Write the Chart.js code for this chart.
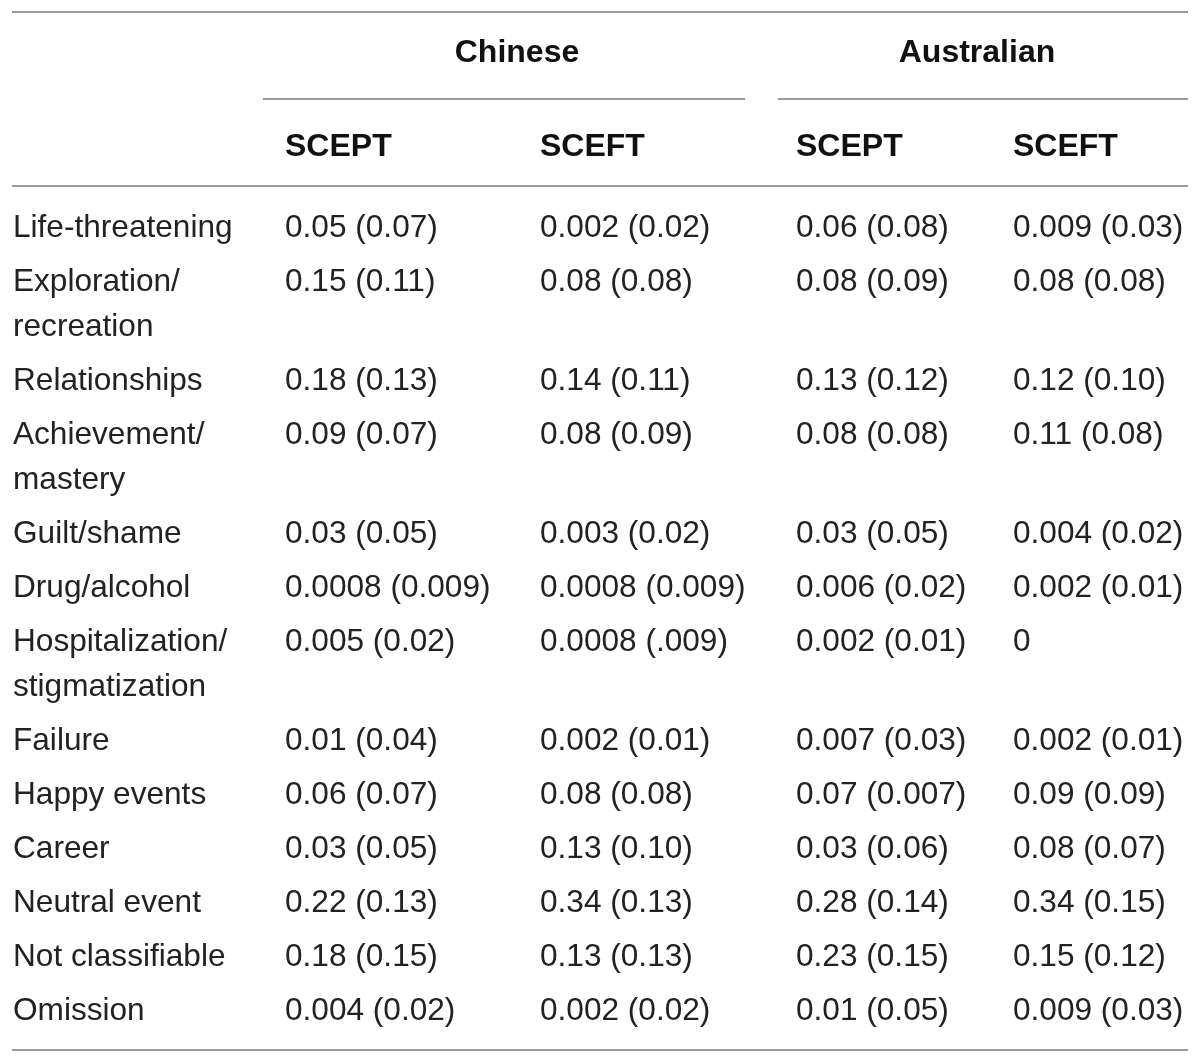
<!DOCTYPE html>
<html>
<head>
<meta charset="utf-8">
<script src="https://cdn.jsdelivr.net/npm/chart.js@4.4.1/dist/chart.umd.min.js"></script>
<style>
  html, body { margin: 0; padding: 0; background: #fff; }
  #wrap { width: 1200px; height: 1063px; position: relative; }
</style>
</head>
<body>
<div id="wrap"><canvas id="tableChart"></canvas></div>
<script>
// table content
var groups = ['Chinese', 'Australian'];
var subHeads = ['SCEPT', 'SCEFT', 'SCEPT', 'SCEFT'];
var categories = [
  ['Life-threatening'],
  ['Exploration/', 'recreation'],
  ['Relationships'],
  ['Achievement/', 'mastery'],
  ['Guilt/shame'],
  ['Drug/alcohol'],
  ['Hospitalization/', 'stigmatization'],
  ['Failure'],
  ['Happy events'],
  ['Career'],
  ['Neutral event'],
  ['Not classifiable'],
  ['Omission']
];
var chineseScept = ['0.05 (0.07)', '0.15 (0.11)', '0.18 (0.13)', '0.09 (0.07)', '0.03 (0.05)', '0.0008 (0.009)',
  '0.005 (0.02)', '0.01 (0.04)', '0.06 (0.07)', '0.03 (0.05)', '0.22 (0.13)', '0.18 (0.15)', '0.004 (0.02)'];
var chineseSceft = ['0.002 (0.02)', '0.08 (0.08)', '0.14 (0.11)', '0.08 (0.09)', '0.003 (0.02)', '0.0008 (0.009)',
  '0.0008 (.009)', '0.002 (0.01)', '0.08 (0.08)', '0.13 (0.10)', '0.34 (0.13)', '0.13 (0.13)', '0.002 (0.02)'];
var australianScept = ['0.06 (0.08)', '0.08 (0.09)', '0.13 (0.12)', '0.08 (0.08)', '0.03 (0.05)', '0.006 (0.02)',
  '0.002 (0.01)', '0.007 (0.03)', '0.07 (0.007)', '0.03 (0.06)', '0.28 (0.14)', '0.23 (0.15)', '0.01 (0.05)'];
var australianSceft = ['0.009 (0.03)', '0.08 (0.08)', '0.12 (0.10)', '0.11 (0.08)', '0.004 (0.02)', '0.002 (0.01)',
  '0', '0.002 (0.01)', '0.09 (0.09)', '0.08 (0.07)', '0.34 (0.15)', '0.15 (0.12)', '0.009 (0.03)'];

// layout
var colX = [13, 285, 540, 796, 1013];
var groupX = [517, 977];
var groupY = 53, subY = 147;
var firstRowY = 228, rowGap = 54, lineGap = 45;
var ruleColor = '#9b9b9b';
var bodyFont = '31.6px "Liberation Sans", Arial, sans-serif';
var boldFont = 'bold 32px "Liberation Sans", Arial, sans-serif';

// row y positions from the wrapped lines
var rowY = [];
var y = firstRowY;
categories.forEach(function(c){
  rowY.push(y);
  y += rowGap + (c.length - 1) * lineGap;
});

function textSet(points, font, align, color){
  return { type: 'scatter', data: points, pointRadius: 0, pointHoverRadius: 0,
           showLine: false, cellFont: font, cellAlign: align, cellColor: color };
}
function rule(x1, x2, yy){
  return { type: 'scatter', data: [{x: x1, y: yy}, {x: x2, y: yy}], showLine: true,
           borderColor: ruleColor, borderWidth: 2, pointRadius: 0, pointHoverRadius: 0 };
}

var datasets = [];
// rules
datasets.push(rule(12, 1188, 12));
datasets.push(rule(263, 745, 99));
datasets.push(rule(778, 1188, 99));
datasets.push(rule(12, 1188, 186));
datasets.push(rule(12, 1188, 1050));

// headers
datasets.push(textSet(groups.map(function(g, i){ return {x: groupX[i], y: groupY, text: g}; }), boldFont, 'center', '#111'));
datasets.push(textSet(subHeads.map(function(s, i){ return {x: colX[i + 1], y: subY, text: s}; }), boldFont, 'left', '#111'));

// category labels (one point per line)
var labelPts = [];
categories.forEach(function(c, r){
  c.forEach(function(line, k){ labelPts.push({x: colX[0], y: rowY[r] + k * lineGap, text: line}); });
});
datasets.push(textSet(labelPts, bodyFont, 'left', '#222'));

[chineseScept, chineseSceft, australianScept, australianSceft].forEach(function(col, c){
  datasets.push(textSet(col.map(function(v, r){ return {x: colX[c + 1], y: rowY[r], text: v}; }), bodyFont, 'left', '#222'));
});

var cellText = {
  id: 'cellText',
  afterDatasetsDraw: function(chart){
    var ctx = chart.ctx;
    chart.data.datasets.forEach(function(ds, i){
      if (!ds.cellFont) return;
      var meta = chart.getDatasetMeta(i);
      ctx.save();
      ctx.font = ds.cellFont;
      ctx.fillStyle = ds.cellColor;
      ctx.textAlign = ds.cellAlign;
      ctx.textBaseline = 'middle';
      meta.data.forEach(function(el, j){
        ctx.fillText(ds.data[j].text, el.x, el.y);
      });
      ctx.restore();
    });
  }
};

new Chart(document.getElementById('tableChart'), {
  type: 'scatter',
  data: { datasets: datasets },
  options: {
    responsive: true,
    maintainAspectRatio: false,
    animation: false,
    layout: { padding: 0 },
    plugins: { legend: { display: false }, tooltip: { enabled: false } },
    scales: {
      x: { type: 'linear', min: 0, max: 1200, display: false },
      y: { type: 'linear', min: 0, max: 1063, reverse: true, display: false }
    }
  },
  plugins: [cellText]
});
</script>
</body>
</html>
